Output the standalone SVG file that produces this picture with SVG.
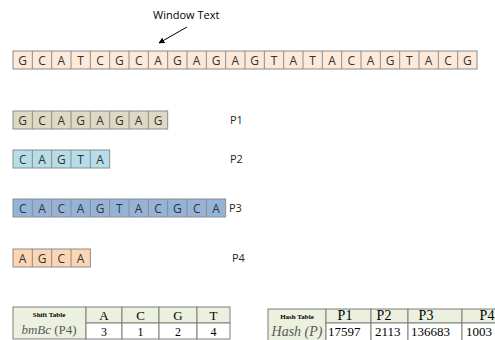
<svg xmlns="http://www.w3.org/2000/svg" width="495" height="340" viewBox="0 0 495 340">
<defs>
<marker id="ah" viewBox="0 0 10 10" refX="9" refY="5" markerWidth="6" markerHeight="6" orient="auto" markerUnits="userSpaceOnUse"><path d="M0,0 L10,5 L0,10 z" fill="#000"/></marker>
<style>
.c{stroke:#8c8c8c;stroke-width:1}
.t{fill:#fde9d9}.p1{fill:#ddd9c3}.p2{fill:#b7dde8}.p3{fill:#95b3d7}.p4{fill:#fcd5b4}
.l{font-family:"Open Sans","Liberation Sans",sans-serif;font-size:12px;fill:#333;text-anchor:middle}
.lab{font-family:"Open Sans","Liberation Sans",sans-serif;font-size:11px;fill:#262626}
.g{fill:#ebf1de;stroke:#7f7f7f;stroke-width:1}
.w{fill:#fff;stroke:#7f7f7f;stroke-width:1}
.s{font-family:"Liberation Serif",serif;fill:#000;text-anchor:middle}
.sb{font-family:"Liberation Serif",serif;font-size:7px;font-weight:bold;fill:#000;text-anchor:middle}
.it{font-family:"Liberation Serif",serif;fill:#595959;text-anchor:middle}
</style>
</defs>
<rect width="495" height="340" fill="#fff"/>

<g id="window-text">
<text x="153" y="19" class="lab" style="fill:#000">Window Text</text>
</g>

<g id="connectors">
<line x1="187" y1="27" x2="159" y2="43" stroke="#000" stroke-width="1" marker-end="url(#ah)"/>
</g>

<g id="text-row">
<rect x="13" y="51" width="464" height="18" class="t c"/>
<path class="c" fill="none" d="M32.33,51v18M51.67,51v18M71,51v18M90.33,51v18M109.67,51v18M129,51v18M148.33,51v18M167.67,51v18M187,51v18M206.33,51v18M225.67,51v18M245,51v18M264.33,51v18M283.67,51v18M303,51v18M322.33,51v18M341.67,51v18M361,51v18M380.33,51v18M399.67,51v18M419,51v18M438.33,51v18M457.67,51v18"/>
<g class="l">
<text x="22.67" y="64.5">G</text><text x="42" y="64.5">C</text><text x="61.33" y="64.5">A</text><text x="80.67" y="64.5">T</text><text x="100" y="64.5">C</text><text x="119.33" y="64.5">G</text><text x="138.67" y="64.5">C</text><text x="158" y="64.5">A</text><text x="177.33" y="64.5">G</text><text x="196.67" y="64.5">A</text><text x="216" y="64.5">G</text><text x="235.33" y="64.5">A</text><text x="254.67" y="64.5">G</text><text x="274" y="64.5">T</text><text x="293.33" y="64.5">A</text><text x="312.67" y="64.5">T</text><text x="332" y="64.5">A</text><text x="351.33" y="64.5">C</text><text x="370.67" y="64.5">A</text><text x="390" y="64.5">G</text><text x="409.33" y="64.5">T</text><text x="428.67" y="64.5">A</text><text x="448" y="64.5">C</text><text x="467.33" y="64.5">G</text>
</g>
</g>

<g id="P1">
<rect x="13" y="111" width="154.67" height="18" class="p1 c"/>
<path class="c" fill="none" d="M32.33,111v18M51.67,111v18M71,111v18M90.33,111v18M109.67,111v18M129,111v18M148.33,111v18"/>
<g class="l">
<text x="22.67" y="124.5">G</text><text x="42" y="124.5">C</text><text x="61.33" y="124.5">A</text><text x="80.67" y="124.5">G</text><text x="100" y="124.5">A</text><text x="119.33" y="124.5">G</text><text x="138.67" y="124.5">A</text><text x="158" y="124.5">G</text>
</g>
<text x="230" y="124" class="lab">P1</text>
</g>

<g id="P2">
<rect x="13" y="150" width="96.67" height="18" class="p2 c"/>
<path class="c" fill="none" d="M32.33,150v18M51.67,150v18M71,150v18M90.33,150v18"/>
<g class="l">
<text x="22.67" y="163.5">C</text><text x="42" y="163.5">A</text><text x="61.33" y="163.5">G</text><text x="80.67" y="163.5">T</text><text x="100" y="163.5">A</text>
</g>
<text x="230" y="163" class="lab">P2</text>
</g>

<g id="P3">
<rect x="13" y="199" width="212.67" height="18" class="p3 c"/>
<path class="c" fill="none" d="M32.33,199v18M51.67,199v18M71,199v18M90.33,199v18M109.67,199v18M129,199v18M148.33,199v18M167.67,199v18M187,199v18M206.33,199v18"/>
<g class="l">
<text x="22.67" y="212.5">C</text><text x="42" y="212.5">A</text><text x="61.33" y="212.5">C</text><text x="80.67" y="212.5">A</text><text x="100" y="212.5">G</text><text x="119.33" y="212.5">T</text><text x="138.67" y="212.5">A</text><text x="158" y="212.5">C</text><text x="177.33" y="212.5">G</text><text x="196.67" y="212.5">C</text><text x="216" y="212.5">A</text>
</g>
<text x="229" y="212" class="lab">P3</text>
</g>

<g id="P4">
<rect x="13" y="249" width="77.33" height="18" class="p4 c"/>
<path class="c" fill="none" d="M32.33,249v18M51.67,249v18M71,249v18"/>
<g class="l">
<text x="22.67" y="262.5">A</text><text x="42" y="262.5">G</text><text x="61.33" y="262.5">C</text><text x="80.67" y="262.5">A</text>
</g>
<text x="232" y="262" class="lab">P4</text>
</g>

<g id="shift-table">
<rect x="13" y="307" width="73" height="32" class="g"/>
<rect x="86" y="307" width="36" height="16" class="g"/>
<rect x="122" y="307" width="37" height="16" class="g"/>
<rect x="159" y="307" width="38" height="16" class="g"/>
<rect x="197" y="307" width="33" height="16" class="g"/>
<rect x="86" y="323" width="36" height="16" class="w"/>
<rect x="122" y="323" width="37" height="16" class="w"/>
<rect x="159" y="323" width="38" height="16" class="w"/>
<rect x="197" y="323" width="33" height="16" class="w"/>
<text x="49" y="317" class="sb">Shift Table</text>
<text x="49" y="334" class="it" font-size="13"><tspan font-style="italic">bmBc</tspan> (P4)</text>
<g class="s" font-size="13">
<text x="104" y="320">A</text><text x="140.5" y="320">C</text><text x="178" y="320">G</text><text x="213.5" y="320">T</text>
</g>
<g class="s" font-size="12">
<text x="104" y="336">3</text><text x="140.5" y="336">1</text><text x="178" y="336">2</text><text x="213.5" y="336">4</text>
</g>
</g>

<g id="hash-table">
<rect x="268" y="309" width="58" height="32" class="g"/>
<rect x="326" y="309" width="45" height="14" class="g"/>
<rect x="371" y="309" width="37" height="14" class="g"/>
<rect x="408" y="309" width="54" height="14" class="g"/>
<rect x="462" y="309" width="45" height="14" class="g"/>
<rect x="326" y="323" width="45" height="18" class="w"/>
<rect x="371" y="323" width="37" height="18" class="w"/>
<rect x="408" y="323" width="54" height="18" class="w"/>
<rect x="462" y="323" width="45" height="18" class="w"/>
<text x="297" y="319" class="sb">Hash Table</text>
<text x="297" y="336" class="it" font-size="14" font-style="italic">Hash (P)</text>
<g class="s" font-size="14">
<text x="345" y="320">P1</text><text x="384" y="320">P2</text><text x="426" y="320">P3</text><text x="487" y="320">P4</text>
</g>
<g class="s" font-size="13" style="text-anchor:start">
<text x="328" y="336">17597</text><text x="375" y="336">2113</text><text x="411" y="336">136683</text><text x="466" y="336">1003</text>
</g>
</g>
</svg>
